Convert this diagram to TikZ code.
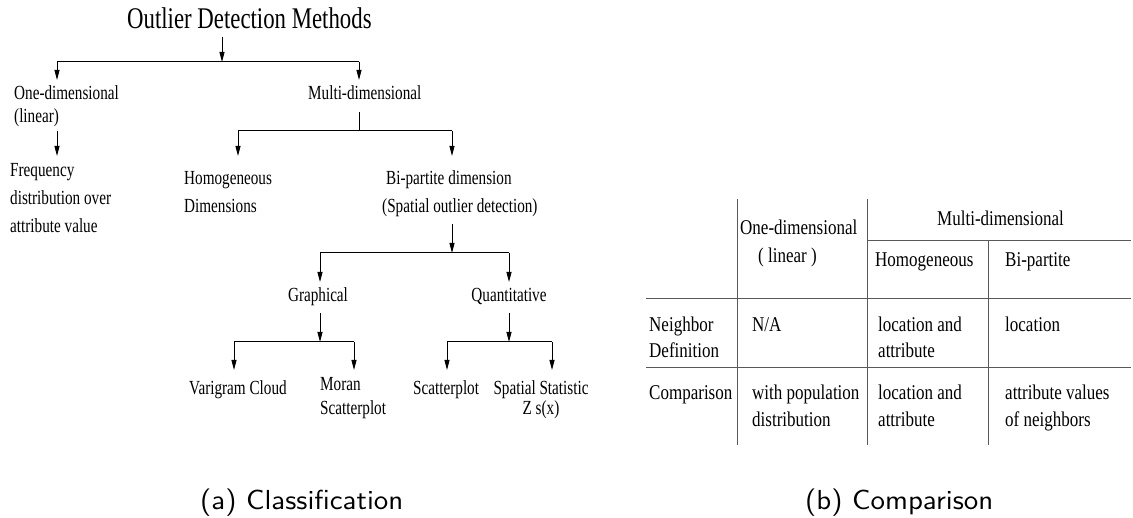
\documentclass[tikz,border=0pt]{standalone}
\usepackage{fontspec}
\usetikzlibrary{arrows.meta}
\newfontfamily\treefont[FakeStretch=0.76]{Liberation Serif}
\newfontfamily\tabfont[FakeStretch=0.81]{Liberation Serif}
\newfontfamily\capfont[FakeStretch=1.05]{lmsans10-regular.otf}
% stacked lines with a fixed baseline distance; the box sits on its first baseline
\newcommand\lrows[2]{\vtop{\baselineskip=#1\relax\lineskiplimit=-1000pt\halign{##\hfil\cr#2\crcr}}}
\newcommand\crows[2]{\vtop{\baselineskip=#1\relax\lineskiplimit=-1000pt\halign{\hfil##\hfil\cr#2\crcr}}}
\begin{document}
\begin{tikzpicture}[x=1pt,y=-1pt,
  titlef/.style={font=\treefont\fontsize{30}{34}\selectfont, inner sep=0pt, anchor=base west},
  tree/.style={font=\treefont\fontsize{20}{24}\selectfont, inner sep=0pt, anchor=base west},
  cell/.style={font=\tabfont\fontsize{21}{25}\selectfont, inner sep=0pt, anchor=base west},
  capt/.style={font=\capfont\fontsize{27.5}{30}\selectfont, inner sep=0pt, anchor=base west},
  ln/.style={line width=1pt, black},
  arr/.style={ln, -{Triangle[length=10pt,width=5pt]}},
  rule/.style={line width=1pt, black!65}]
\useasboundingbox (0,0) rectangle (1133,518);

% ---------- (a) classification tree ----------
\node[titlef] (title) at (127,29) {Outlier Detection Methods};
\node[tree] (one)   at (14,100)  {\lrows{23pt}{One-dimensional\cr(linear)}};
\node[tree] (freq)  at (10,177)  {\lrows{28pt}{Frequency\cr distribution over\cr attribute value}};
\node[tree] (multi) at (308,100) {Multi-dimensional};
\node[tree] (homo)  at (184,185) {\lrows{28pt}{Homogeneous\cr Dimensions}};
\node[tree] (bip)   at (382,185) {\lrows{28pt}{\hspace{4pt}Bi-partite dimension\cr(Spatial outlier detection)}};
\node[tree,anchor=base] (graph) at (318,302) {Graphical};
\node[tree,anchor=base] (quant) at (509,302) {Quantitative};
\node[tree] (vari)  at (189,395) {Varigram Cloud};
\node[tree] (moran) at (320,391) {\lrows{24pt}{Moran\cr Scatterplot}};
\node[tree] (scat)  at (413,395) {Scatterplot};
\node[tree,anchor=base] (zstat) at (541,395) {\crows{20pt}{Spatial Statistic\cr Z s(x)}};

% title -> one / multi
\coordinate (t0) at (222,37);
\coordinate (t0a) at (57,62);  \coordinate (t0b) at (359,62);
\coordinate (one-in) at (57,80); \coordinate (multi-in) at (359,80);
\draw[ln] (t0a) -- (t0b);
\draw[arr] (t0) -- (t0 |- t0a);
\draw[arr] (t0a) -- (one-in);
\draw[arr] (t0b) -- (multi-in);

% one -> freq
\coordinate (o0) at (57,131); \coordinate (freq-in) at (57,156);
\draw[arr] (o0) -- (freq-in);

% multi -> homo / bip
\coordinate (m0) at (359,112);
\coordinate (m0a) at (238,131); \coordinate (m0b) at (452,131);
\coordinate (homo-in) at (238,156); \coordinate (bip-in) at (452,156);
\draw[ln] (m0) -- (m0 |- m0a);
\draw[ln] (m0a) -- (m0b);
\draw[arr] (m0a) -- (homo-in);
\draw[arr] (m0b) -- (bip-in);

% bip -> graph / quant
\coordinate (p0) at (452,224);
\coordinate (p0a) at (320,253); \coordinate (p0b) at (509,253);
\coordinate (graph-in) at (320,282); \coordinate (quant-in) at (509,282);
\draw[ln] (p0a) -- (p0b);
\draw[arr] (p0) -- (p0 |- p0a);
\draw[arr] (p0a) -- (graph-in);
\draw[arr] (p0b) -- (quant-in);

% graph -> vari / moran
\coordinate (g0) at (320,313);
\coordinate (g0a) at (234,342); \coordinate (g0b) at (354,342);
\coordinate (vari-in) at (234,370); \coordinate (moran-in) at (354,370);
\draw[ln] (g0a) -- (g0b);
\draw[arr] (g0) -- (g0 |- g0a);
\draw[arr] (g0a) -- (vari-in);
\draw[arr] (g0b) -- (moran-in);

% quant -> scat / zstat
\coordinate (q0) at (509,313);
\coordinate (q0a) at (447,342); \coordinate (q0b) at (552,342);
\coordinate (scat-in) at (447,370); \coordinate (zstat-in) at (552,370);
\draw[ln] (q0a) -- (q0b);
\draw[arr] (q0) -- (q0 |- q0a);
\draw[arr] (q0a) -- (scat-in);
\draw[arr] (q0b) -- (zstat-in);

% ---------- (b) comparison table ----------
\draw[rule] (737,199) -- (737,445);
\draw[rule] (867,199) -- (867,445);
\draw[rule] (988,241) -- (988,445);
\draw[rule] (867,241) -- (1131,241);
\draw[rule] (646,299) -- (1131,299);
\draw[rule] (646,368) -- (1131,368);

\node[cell] (h1)  at (740,235)  {\lrows{28pt}{One-dimensional\cr\hspace{18pt}( linear )}};
\node[cell] (h2)  at (937,226)  {Multi-dimensional};
\node[cell] (h3)  at (875,267)  {Homogeneous};
\node[cell] (h4)  at (1005,267) {Bi-partite};
\node[cell] (r1)  at (649,332)  {\lrows{26pt}{Neighbor\cr Definition}};
\node[cell] (c11) at (752,332)  {N/A};
\node[cell] (c12) at (878,332)  {\lrows{26pt}{location and\cr attribute}};
\node[cell] (c13) at (1005,332) {location};
\node[cell] (r2)  at (649,400)  {Comparison};
\node[cell] (c21) at (752,400)  {\lrows{27pt}{with population\cr distribution}};
\node[cell] (c22) at (878,400)  {\lrows{27pt}{location and\cr attribute}};
\node[cell] (c23) at (1005,400) {\lrows{27pt}{attribute values\cr of neighbors}};

% ---------- captions ----------
\node[capt] (capa) at (200,509) {(a) Classification};
\node[capt] (capb) at (805,509) {(b) Comparison};
\end{tikzpicture}
\end{document}
